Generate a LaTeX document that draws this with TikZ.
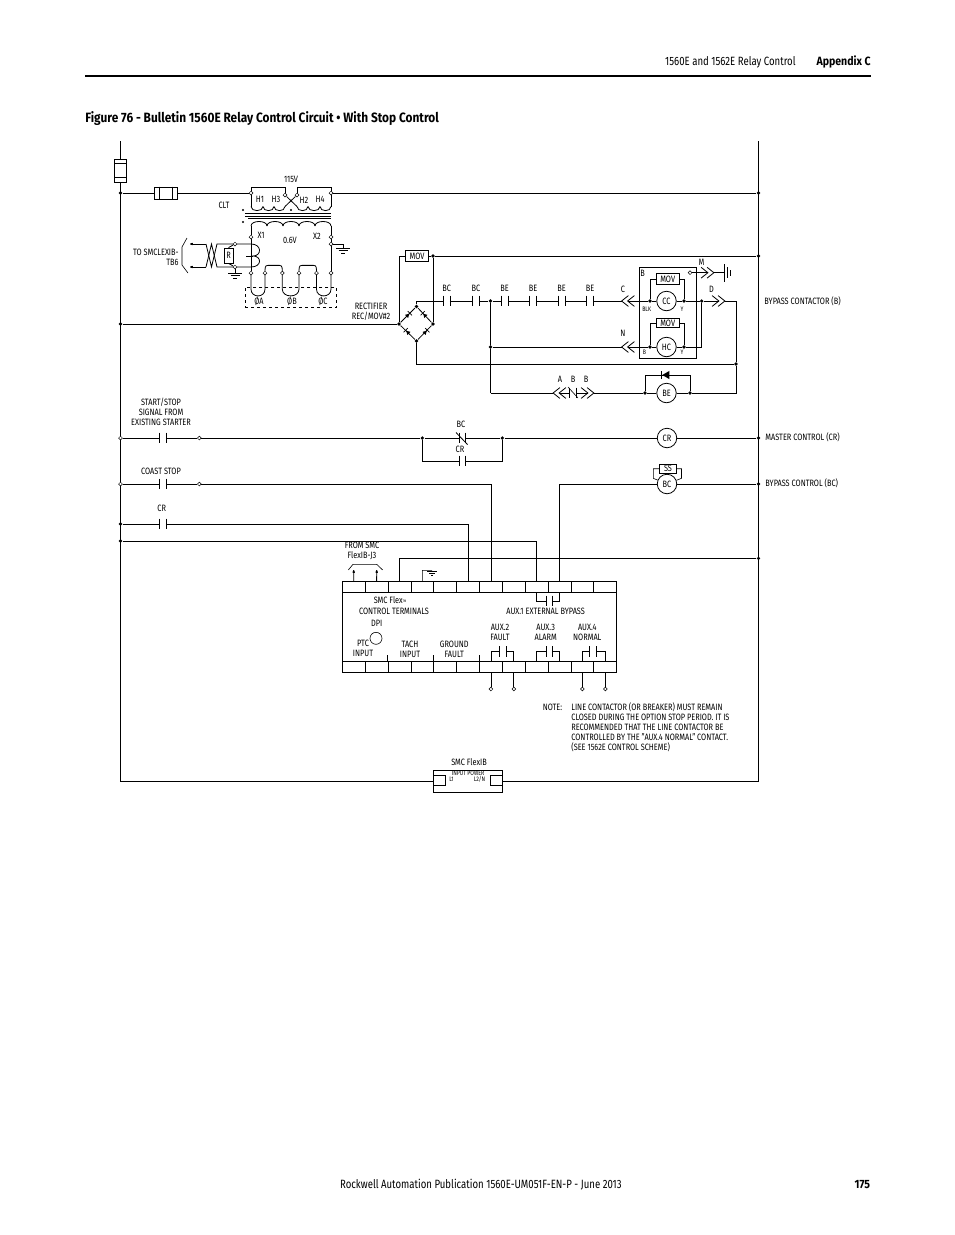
\documentclass[tikz,border=0pt]{standalone}
\usepackage{fontspec}
\setmainfont[FakeStretch=0.8,BoldFeatures={FakeStretch=0.88}]{Fira Sans}
\usetikzlibrary{arrows.meta}
\usetikzlibrary{shapes.geometric}
\def\contact#1#2{\node (#1) at (#2) [contact] {};
	\draw (#1.north west) -- (#1.south west) (#1.north east) -- (#1.south east);}
\def\plugr#1#2{\node (#1) at (#2) [plug] {};
	\draw (#1.north west) -- ([xshift=-6pt]#1.east) -- (#1.south west) ([xshift=6pt]#1.north west) -- (#1.east) -- ([xshift=6pt]#1.south west);}
\def\plugl#1#2{\node (#1) at (#2) [plug] {};
	\draw (#1.north east) -- ([xshift=6pt]#1.west) -- (#1.south east) ([xshift=-6pt]#1.north east) -- (#1.west) -- ([xshift=-6pt]#1.south east);}
\def\earth#1{\draw ([xshift=-7pt]#1) -- ([xshift=7pt]#1) ([xshift=-4.5pt,yshift=-2.5pt]#1) -- ([xshift=4.5pt,yshift=-2.5pt]#1) ([xshift=-2pt,yshift=-5pt]#1) -- ([xshift=2pt,yshift=-5pt]#1);}
\begin{document}
\begin{tikzpicture}[x=1pt,y=-1pt,thick,
	dot/.style={circle,fill=black,inner sep=0pt,minimum size=3.6pt},
	term/.style={circle,draw,fill=white,line width=0.5pt,inner sep=0pt,minimum size=3.8pt},
	coil/.style={circle,draw,inner sep=0pt,minimum size=19.5pt,font=\fontsize{9.2}{10}\selectfont},
	contact/.style={inner sep=0pt,minimum width=5.6pt,minimum height=10pt},
	plug/.style={inner sep=0pt,minimum width=12pt,minimum height=10pt},
	box/.style={rectangle,draw,inner sep=0pt,font=\fontsize{9.2}{10}\selectfont},
	cell/.style={rectangle,draw,inner sep=0pt,minimum width=22.87pt,minimum height=10.6pt},
	diode/.style={regular polygon,regular polygon sides=3,fill=black,inner sep=0pt,minimum size=5pt},
	diodebar/.style={rectangle,fill=black,inner sep=0pt,minimum width=6pt,minimum height=0.8pt},
	lbl/.style={inner sep=0pt,align=center,font=\fontsize{9.2}{10}\selectfont},
	small/.style={inner sep=0pt,font=\fontsize{6.5}{7}\selectfont},
	tip/.style={-{Latex[round,length=4pt,width=3pt]}}]
	\path [use as bounding box,fill=white] (0,0) rectangle (954,1235);

	\node (hdrL) at (796,62) [inner sep=0pt,anchor=east,font=\fontsize{12}{14}\selectfont] {1560E and 1562E Relay Control};
	\node (hdrR) at (871,62) [inner sep=0pt,anchor=east,font=\fontsize{12}{14}\selectfont\bfseries] {Appendix C};
	\coordinate (ruleL) at (85,76);
	\coordinate (ruleR) at (871,76);
	\draw [line width=2.6pt] (ruleL) -- (ruleR);
	\node (title) at (85,118.5) [inner sep=0pt,anchor=west,font=\fontsize{13.5}{15}\selectfont\bfseries] {Figure 76 - Bulletin 1560E Relay Control Circuit • With Stop Control};
	\node (pub) at (622,1185) [inner sep=0pt,anchor=east,font=\fontsize{12}{14}\selectfont] {Rockwell Automation Publication 1560E-UM051F-EN-P - June 2013};
	\node (pageno) at (870.5,1185) [inner sep=0pt,anchor=east,font=\fontsize{12}{14}\selectfont\bfseries] {175};

	\coordinate (railLt) at (120.5,141);
	\coordinate (railLb) at (120.5,781.3);
	\coordinate (railRt) at (758.5,141);
	\coordinate (railRb) at (758.5,781.3);
	\node (fuseL) at (120.5,170.5) [box,fill=white,minimum width=11.5pt,minimum height=23pt] {};
	\draw ([yshift=-5pt]fuseL.north west) -- ([yshift=-5pt]fuseL.north east);
	\draw ([yshift=5pt]fuseL.south west) -- ([yshift=5pt]fuseL.south east);
	\node (flexIB) at (467.8,781.3) [box,minimum width=69pt,minimum height=22pt] {};
	\node (pinL) at (439.5,780.7) [box,minimum width=12.4pt,minimum height=10pt] {};
	\node (pinR) at (496.5,780.7) [box,minimum width=11.6pt,minimum height=10pt] {};
	\draw (railLt) -- (fuseL.north);
	\draw (fuseL.south) -- (railLb) -- (flexIB.west);
	\draw (flexIB.east) -- (railRb) -- (railRt);
	\node (lblIB) at (469,762.5) [lbl] {SMC FlexIB};
	\node (lblIP) at (468,773.5) [small] {INPUT POWER};
	\node (lblL1) at (451.5,779.5) [small] {L1};
	\node (lblL2) at (479.5,779.5) [small] {L2/N};

	\node (l193) at (120.5,193) [dot] {};
	\node (r193) at (758.5,193) [dot] {};
	\node (fuseT) at (166,193) [box,minimum width=23.5pt,minimum height=12pt] {};
	\draw ([xshift=6pt]fuseT.north west) -- ([xshift=6pt]fuseT.south west);
	\draw ([xshift=-6pt]fuseT.north east) -- ([xshift=-6pt]fuseT.south east);
	\node (tH1) at (251,193) [term] {};
	\node (tH3) at (285,195) [term] {};
	\node (tH2) at (297,195) [term] {};
	\node (tH4) at (331,193) [term] {};
	\coordinate (pa) at (251,187);
	\coordinate (pb) at (285,187);
	\coordinate (pc) at (297,187);
	\coordinate (pd) at (331,187);
	\coordinate (ca) at (251,206.5);
	\coordinate (cb) at (285,206.5);
	\coordinate (cc) at (297,206.5);
	\coordinate (cd) at (331,206.5);
	\draw (l193) -- (fuseT);
	\draw (fuseT) -- (tH1);
	\draw (tH4) -- (r193);
	\draw (tH1) -- (pa) -- (pb) -- (tH3);
	\draw (tH2) -- (pc) -- (pd) -- (tH4);
	\draw (tH1) -- (ca);
	\draw (tH4) -- (cd);
	\draw (tH3) -- (cc);
	\draw (tH2) -- (cb);
	\foreach \xa/\xb in {251/263,263/274,274/285,297/308,308/320,320/331}
		\draw (\xa,206.5) .. controls (\xa,212) and (\xb,212) .. (\xb,206.5);
	\foreach \xa/\xb in {251/267,267/283,283/299,299/315,315/331}
		\draw (\xa,226) .. controls (\xa,220) and (\xb,220) .. (\xb,226);
	\coordinate (coreA) at (245,213);
	\coordinate (coreB) at (331,213);
	\coordinate (coreC) at (245,216);
	\coordinate (coreD) at (331,216);
	\coordinate (coreE) at (248,218.5);
	\coordinate (coreF) at (331,218.5);
	\draw [line width=0.6pt] (coreA) -- (coreB);
	\draw [line width=0.6pt] (coreC) -- (coreD);
	\draw [line width=0.6pt] (coreE) -- (coreF);
	\node (mkA) at (243,210) [dot,minimum size=2.4pt] {};
	\node (mkB) at (243,222) [dot,minimum size=2.4pt] {};
	\node (mkC) at (291,210) [dot,minimum size=2.4pt] {};
	\node (lbl115) at (291,179) [lbl] {115V};
	\node (lblCLT) at (224,205) [lbl] {CLT};
	\node (lblH1) at (260,199) [lbl] {H1};
	\node (lblH3) at (276,199) [lbl] {H3};
	\node (lblH2) at (304,200) [lbl] {H2};
	\node (lblH4) at (320,199) [lbl] {H4};
	\node (lblX1) at (261,235) [lbl] {X1};
	\node (lblV) at (290,240) [lbl] {0.6V};
	\node (lblX2) at (317,236) [lbl] {X2};

	\node (tX1) at (251,237) [term] {};
	\node (tX2) at (331,237) [term] {};
	\node (tG) at (331,244) [term] {};
	\coordinate (sa) at (251,226);
	\coordinate (sb) at (331,226);
	\coordinate (gndA) at (343,244);
	\coordinate (gndB) at (343,248);
	\draw (sa) -- (tX1);
	\draw (sb) -- (tX2);
	\draw (tX2) -- (tG);
	\draw (tG) -- (gndA) -- (gndB);
	\earth{gndB}
	\foreach \n/\x in {1/251,2/265,3/282.3,4/299,5/316.5,6/331}
		\node (tb\n) at (\x,273) [term] {};
	\draw (tX1) -- (tb1);
	\draw (tG) -- (tb6);
	\draw (tb1.south) -- ++(0,14) .. controls +(0,9) and +(0,9) .. ([yshift=-14pt]tb2.south) -- (tb2.south);
	\draw (tb3.south) -- ++(0,14) .. controls +(0,9) and +(0,9) .. ([yshift=-14pt]tb4.south) -- (tb4.south);
	\draw (tb5.south) -- ++(0,14) .. controls +(0,9) and +(0,9) .. ([yshift=-14pt]tb6.south) -- (tb6.south);
	\draw (tb2.north) .. controls +(0,-6) and +(-5,0) .. ++(6,-5.5) -- ([xshift=-6pt,yshift=5.5pt]tb3.north) .. controls +(5,0) and +(0,-6) .. (tb3.north);
	\draw (tb4.north) .. controls +(0,-6) and +(-5,0) .. ++(6,-5.5) -- ([xshift=-6pt,yshift=5.5pt]tb5.north) .. controls +(5,0) and +(0,-6) .. (tb5.north);
	\node (phase) at (291,297) [rectangle,draw,dashed,inner sep=0pt,minimum width=91.5pt,minimum height=20pt] {};
	\node (lblA) at (259,301) [lbl] {ØA};
	\node (lblB) at (292,301) [lbl] {ØB};
	\node (lblC) at (323,301) [lbl] {ØC};

	\node (tRa) at (235,244) [term] {};
	\node (tRb) at (235,267) [term] {};
	\node (resR) at (228.5,255.5) [box,minimum width=9pt,minimum height=15pt] {R};
	\coordinate (twA) at (217,244);
	\coordinate (twB) at (217,267);
	\coordinate (twC) at (206,244);
	\coordinate (twD) at (206,267);
	\coordinate (twM) at (211.5,267);
	\coordinate (twN) at (211.5,244);
	\coordinate (arrA) at (190,244);
	\coordinate (arrB) at (190,267);
	\coordinate (gndC) at (235,273);
	\coordinate (ctA) at (251,244);
	\coordinate (ctB) at (253,256);
	\coordinate (ctC) at (251,267);
	\coordinate (ctD) at (246,256);
	\draw (tRa) -- (ctA) .. controls +(11,0) and +(9,0) .. (ctB) .. controls +(9,0) and +(11,0) .. (ctC) -- (tRb);
	\draw (ctD) -- (ctB);
	\draw (resR.north) -- (tRa);
	\draw (resR.south) -- (tRb);
	\draw (tRa) -- (twA) -- (twM) -- (twC);
	\draw (tRb) -- (twB) -- (twN) -- (twD);
	\draw [tip] (twC) -- (arrA);
	\draw [tip] (twD) -- (arrB);
	\draw (tRb) -- (gndC);
	\earth{gndC}
	\coordinate (brA) at (187,238);
	\coordinate (brB) at (182,247);
	\coordinate (brC) at (182,265);
	\coordinate (brD) at (188,273);
	\draw [line width=0.6pt] (brA) -- (brB) -- (brC) -- (brD);
	\node (lblTo) at (179,257.5) [lbl,anchor=east,align=right] {TO SMCLEXIB-\\TB6};

	\node (l324) at (120.5,324) [dot] {};
	\node (brL) at (399,324) [dot] {};
	\node (brT) at (416.5,306.5) [dot] {};
	\node (brR) at (433,324) [dot] {};
	\node (brM) at (416.5,341) [dot] {};
	\draw (l324) -- (brL);
	\draw (brL) -- (brT);
	\draw (brT) -- (brR);
	\draw (brR) -- (brM);
	\draw (brM) -- (brL);
	\foreach \n/\x/\y/\a in {da/407.5/315.5/-45,db/425/315.5/45,dc/408/332.5/45,dd/425/332.5/-45} {
		\node (\n) at (\x,\y) [diode,rotate=\a] {};
		\node (\n bar) at (\n.corner 1) [diodebar,rotate=\a] {};
	}
	\node (lblRect) at (371,311.5) [lbl] {RECTIFIER\\REC/MOV\#2};
	\node (mov0) at (417,256) [box,minimum width=22.6pt,minimum height=10.4pt] {MOV};
	\node (j256) at (433,256) [dot] {};
	\node (r256) at (758.5,256) [dot] {};
	\draw (brL) |- (mov0);
	\draw (mov0) -- (j256);
	\draw (j256) -- (brR);
	\draw (j256) -- (r256);

	\contact{cBCa}{446.7,301}
	\contact{cBCb}{476,301}
	\contact{cBEa}{505,301}
	\contact{cBEb}{533,301}
	\contact{cBEc}{562,301}
	\contact{cBEd}{590,301}
	\node (j301) at (490.5,301) [dot] {};
	\draw (brT) |- (cBCa.west);
	\draw (cBCa.east) -- (cBCb.west);
	\draw (cBCb.east) -- (j301);
	\draw (j301) -- (cBEa.west);
	\draw (cBEa.east) -- (cBEb.west);
	\draw (cBEb.east) -- (cBEc.west);
	\draw (cBEc.east) -- (cBEd.west);
	\node (lblBCa) at (446.7,288.5) [lbl] {BC};
	\node (lblBCb) at (476,288.5) [lbl] {BC};
	\node (lblBEa) at (504.5,288.5) [lbl] {BE};
	\node (lblBEb) at (533,288.5) [lbl] {BE};
	\node (lblBEc) at (561.5,288.5) [lbl] {BE};
	\node (lblBEd) at (590,288.5) [lbl] {BE};

	\plugl{pC}{628,301}
	\plugl{pN}{628,347}
	\plugr{pD}{718.5,301}
	\plugr{pM}{707.5,272.7}
	\node (lblPC) at (623,289) [lbl] {C};
	\node (lblPN) at (623,333.5) [lbl] {N};
	\node (lblPD) at (711.5,289) [lbl] {D};
	\node (lblPM) at (701.5,262) [lbl] {M};
	\node (boxB) at (667.5,313) [rectangle,draw,inner sep=0pt,minimum width=57pt,minimum height=91.5pt] {};
	\node (lblBx) at (642.7,273.5) [lbl] {B};
	\node (coilCC) at (666.5,301) [coil] {CC};
	\node (coilHC) at (666.5,347) [coil] {HC};
	\node (movA) at (667.7,279) [box,fill=white,minimum width=23.5pt,minimum height=10.4pt] {MOV};
	\node (movB) at (667.7,323) [box,fill=white,minimum width=23.5pt,minimum height=9.4pt] {MOV};
	\node (jCa) at (650,301) [dot] {};
	\node (jCb) at (684,301) [dot] {};
	\node (jHa) at (650,347) [dot] {};
	\node (jHb) at (684,347) [dot] {};
	\node (j702) at (701.7,301) [dot] {};
	\node (corner) at (701.7,347) [inner sep=0pt] {};
	\node (j347) at (490.5,347) [dot] {};
	\node (lblBlk) at (646.7,309.5) [small] {BLK};
	\node (lblYa) at (682,309.5) [small] {Y};
	\node (lblBs) at (644.5,352.5) [small] {B};
	\node (lblYb) at (682,352.5) [small] {Y};
	\draw (cBEd.east) -- (pC.west);
	\draw (pC.center) -- (jCa);
	\draw (jCa) -- (coilCC);
	\draw (coilCC) -- (jCb);
	\draw (jCb) -- (j702);
	\draw (j702) -- (pD.center);
	\draw (jCa) |- (movA);
	\draw (movA) -| (jCb);
	\draw (j347) -- (pN.west);
	\draw (pN.center) -- (jHa);
	\draw (jHa) -- (coilHC);
	\draw (coilHC) -- (jHb);
	\draw (jHa) |- (movB);
	\draw (movB) -| (jHb);
	\draw (jHb) -- (corner.center) -- (j702);
	\node (tM) at (690,272.7) [term] {};
	\node (batt) at (724,272.7) [inner sep=0pt] {};
	\draw (tM) -- (pM.center);
	\draw (pM.east) -- (batt.center);
	\coordinate (batA) at (724,264);
	\coordinate (batB) at (724,282);
	\coordinate (batC) at (727,267);
	\coordinate (batD) at (727,278);
	\coordinate (batE) at (730,270);
	\coordinate (batF) at (730,275.5);
	\draw (batA) -- (batB);
	\draw (batC) -- (batD);
	\draw (batE) -- (batF);

	\node (j736) at (736,364) [dot] {};
	\coordinate (c301) at (736,301);
	\coordinate (c393) at (736,393);
	\node (coilBE) at (666.5,393) [coil] {BE};
	\node (jBEa) at (645,393) [dot] {};
	\node (jBEb) at (690,393) [dot] {};
	\coordinate (c393a) at (490.5,393);
	\coordinate (dbA) at (645,375);
	\coordinate (dbB) at (690,375);
	\node (dBE) at (667,375) [diode,minimum size=9.5pt,rotate=90] {};
	\node (dBEbar) at (dBE.corner 1) [diodebar,minimum width=8pt,rotate=90] {};
	\draw (brM) |- (j736);
	\draw (pD.east) -- (c301) -- (j736);
	\draw (j736) -- (c393) -- (jBEb);
	\draw (j301) -- (j347);
	\draw (j347) -- (c393a);
	\draw (jBEa) -- (dbA) -- (dbB) -- (jBEb);
	\draw (jBEa) -- (coilBE);
	\draw (coilBE) -- (jBEb);
	\plugl{pA}{559.5,393}
	\plugr{pB}{587.5,393}
	\node (cNCa) at (573,393) [contact] {};
	\draw (cNCa.north west) -- (cNCa.south west);
	\draw (cNCa.north east) -- (cNCa.south east);
	\coordinate (slA) at (568,387);
	\coordinate (slB) at (578,398);
	\draw [line width=0.6pt] (slA) -- (slB);
	\draw (c393a) -- (pA.west);
	\draw (pA.center) -- (cNCa.west);
	\draw (cNCa.east) -- (pB.center);
	\draw (pB.east) -- (jBEa);
	\node (lblPA) at (560,379) [lbl] {A};
	\node (lblPB) at (573,379) [lbl] {B};
	\node (lblPBb) at (586,379) [lbl] {B};
	\node (lblBypass) at (764,301) [lbl,anchor=west] {BYPASS CONTACTOR (B)};

	\node (t438) at (120.5,438) [term] {};
	\contact{cStart}{162.7,438}
	\node (s438) at (199.3,438) [term] {};
	\node (j422) at (422.3,438) [dot] {};
	\node (j502) at (502.3,438) [dot] {};
	\node (cNC) at (462.5,438) [contact] {};
	\draw (cNC.north west) -- (cNC.south west);
	\draw (cNC.north east) -- (cNC.south east);
	\coordinate (slC) at (456,432.5);
	\coordinate (slD) at (467.5,444.5);
	\draw (slC) -- (slD);
	\contact{cCR}{462.3,461}
	\node (coilCR) at (667,438) [coil] {CR};
	\node (r438) at (758.5,438) [dot] {};
	\draw (t438) -- (cStart.west);
	\draw (cStart.east) -- (s438);
	\draw (s438) -- (j422);
	\draw (j422) -- (cNC.west);
	\draw (cNC.east) -- (j502);
	\draw (j422) |- (cCR.west);
	\draw (cCR.east) -| (j502);
	\draw (j502) -- (coilCR);
	\draw (coilCR) -- (r438);
	\node (lblStart) at (161,412) [lbl] {START/STOP\\SIGNAL FROM\\EXISTING STARTER};
	\node (lblNC) at (461,424.5) [lbl] {BC};
	\node (lblCRa) at (460,449) [lbl] {CR};
	\node (lblMaster) at (765,437) [lbl,anchor=west] {MASTER CONTROL (CR)};

	\node (t484) at (120.5,484) [term] {};
	\contact{cCoast}{162.7,484}
	\node (s484) at (199.3,484) [term] {};
	\node (coilBC) at (667,484) [coil] {BC};
	\node (r484) at (758.5,484) [dot] {};
	\node (movSS) at (668,468.7) [box,minimum width=17.4pt,minimum height=9pt] {SS};
	\coordinate (ssA) at (653.3,468.7);
	\coordinate (ssB) at (653.3,478.3);
	\coordinate (ssC) at (681.5,468.7);
	\coordinate (ssD) at (681.5,478.3);
	\draw [line width=0.6pt] (movSS) -- (ssA) -- (ssB) -- (coilBC);
	\draw [line width=0.6pt] (movSS) -- (ssC) -- (ssD) -- (coilBC);
	\draw (t484) -- (cCoast.west);
	\draw (cCoast.east) -- (s484);
	\draw (coilBC) -- (r484);
	\node (lblCoast) at (161,471) [lbl] {COAST STOP};
	\node (lblBypassC) at (765,483) [lbl,anchor=west] {BYPASS CONTROL (BC)};

	\node (l524) at (120.5,524) [dot] {};
	\contact{cCRb}{162.7,524}
	\node (lblCRb) at (161.7,508.5) [lbl] {CR};
	\node (l541) at (120.5,541) [dot] {};
	\node (r558) at (758.5,558.3) [dot] {};
	\draw (l524) -- (cCRb.west);

	\node (smc) at (479.5,627) [rectangle,draw,inner sep=0pt,minimum width=274.4pt,minimum height=90.6pt] {};
	\foreach \i [evaluate=\i as \cx using 342.3+22.87*(\i-0.5)] in {1,...,12} {
		\node (top\i) at (\cx,587) [cell] {};
		\node (bot\i) at (\cx,667) [cell] {};
	}
	\draw (cCRb.east) -| (top6.north);
	\draw (s484) -| (top7.north);
	\draw (l541) -| (top9.north);
	\draw (coilBC) -| (top10.north);
	\draw (r558) -| (top3.north);
	\coordinate (brE) at (348.3,570);
	\coordinate (brF) at (353,564.3);
	\coordinate (brG) at (376.7,564.3);
	\coordinate (brH) at (382.7,570);
	\draw [line width=0.6pt] (brE) -- (brF) -- (brG) -- (brH);
	\coordinate (arrC) at (353.7,570);
	\coordinate (arrD) at (376.7,570);
	\draw [tip] (top1.north) -- (arrC);
	\draw [tip] (top2.north) -- (arrD);
	\coordinate (gndE) at (422.3,570.3);
	\coordinate (gndF) at (432,570.3);
	\draw [line width=0.6pt] (top4.north) -- (gndE) -- (gndF);
	\draw [line width=0.6pt] (427,571.5) -- (437,571.5) (429,573.5) -- (435,573.5) (431,575.5) -- (433,575.5);
	\node (lblFrom) at (362,551) [lbl] {FROM SMC\\FlexIB-J3};

	\contact{cAuxA}{549.2,601}
	\contact{cAuxB}{502.9,651.7}
	\contact{cAuxC}{549.2,651.7}
	\contact{cAuxD}{593,651.7}
	\draw (top9.south) |- (cAuxA.west);
	\draw (top10.south) |- (cAuxA.east);
	\draw (bot7.north) |- (cAuxB.west);
	\draw (bot8.north) |- (cAuxB.east);
	\draw (bot9.north) |- (cAuxC.west);
	\draw (bot10.north) |- (cAuxC.east);
	\draw (bot11.north) |- (cAuxD.west);
	\draw (bot12.north) |- (cAuxD.east);
	\foreach \n/\k in {a/7,b/8,c/11,d/12} {
		\node (tOut\n) at (bot\k.south |- 0,689) [term] {};
		\draw (bot\k.south) -- (tOut\n);
	}
	\foreach \n/\k in {a/3,b/5,c/7} {
		\coordinate (tick\n) at ([yshift=6.7pt]bot\k.north west);
		\draw [line width=0.6pt] (bot\k.north west) -- (tick\n);
	}
	\node (dpi) at (376,638.3) [circle,draw,line width=0.6pt,inner sep=0pt,minimum size=12pt] {};
	\node (lblFlex) at (390,600) [lbl] {SMC Flex\raisebox{1pt}{\fontsize{3.5}{4}\selectfont TM}};
	\node (lblCtrl) at (394,611) [lbl] {CONTROL TERMINALS};
	\node (lblDPI) at (376.7,623.3) [lbl] {DPI};
	\node (lblPTC) at (363,648.7) [lbl] {PTC\\INPUT};
	\node (lblTach) at (410,649) [lbl] {TACH\\INPUT};
	\node (lblGnd) at (454.3,649) [lbl] {GROUND\\FAULT};
	\node (lblAuxA) at (545.7,611) [lbl] {AUX.1 EXTERNAL BYPASS};
	\node (lblAuxB) at (500,632) [lbl] {AUX.2\\FAULT};
	\node (lblAuxC) at (545.7,632) [lbl] {AUX.3\\ALARM};
	\node (lblAuxD) at (587.3,632) [lbl] {AUX.4\\NORMAL};

	\node (lblNote) at (552.5,707) [lbl] {NOTE:};
	\node (lblText) at (571,727.5) [lbl,anchor=west,align=left] {LINE CONTACTOR (OR BREAKER) MUST REMAIN\\CLOSED DURING THE OPTION STOP PERIOD.  IT IS\\RECOMMENDED THAT THE LINE CONTACTOR BE\\CONTROLLED BY THE "AUX.4 NORMAL" CONTACT.\\(SEE 1562E CONTROL SCHEME)};
\end{tikzpicture}
\end{document}
